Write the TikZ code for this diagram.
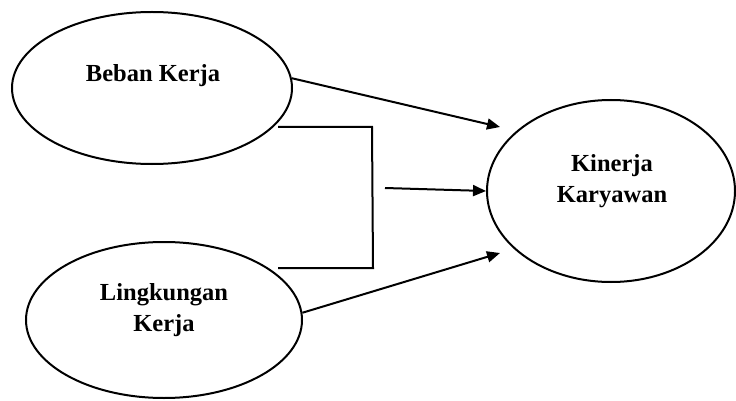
\documentclass[tikz,border=0pt]{standalone}
\usepackage{fontspec}
\setmainfont{Liberation Serif}
\usetikzlibrary{shapes.geometric,arrows.meta}
\begin{document}
\begin{tikzpicture}[x=1pt,y=-1pt,
  oval/.style={draw,ellipse,line width=2pt,inner sep=0pt},
  lbl/.style={align=center,font=\fontsize{24.5}{31}\selectfont\bfseries},
  link/.style={line width=2pt},
  arr/.style={line width=2pt,-{Triangle[length=13pt,width=11pt]}}]
\useasboundingbox (0,0) rectangle (736,401);
\node[oval,minimum width=280pt,minimum height=152pt] (b) at (152,88) {};
\node[lbl] (bt) at (153,76) {Beban Kerja};
\node[oval,minimum width=276pt,minimum height=156pt] (l) at (164,320) {};
\node[lbl] (lt) at (164,310) {Lingkungan\\Kerja};
\node[oval,minimum width=248pt,minimum height=182pt] (k) at (611,191) {};
\node[lbl] (kt) at (612,181) {Kinerja\\Karyawan};
\coordinate (t1) at (500,127);
\coordinate (t3) at (500,253);
\coordinate (bt1) at (278,127);
\coordinate (bt2) at (372,127);
\coordinate (bb1) at (278,268);
\coordinate (bb2) at (373,268);
\coordinate (m1) at (385,188);
\draw[arr] (b.4.5) -- (t1);
\draw[arr] (l.3) -- (t3);
\draw[link] (bt1) -- (bt2) -- (bb2) -- (bb1);
\draw[arr] (m1) -- (k.west);
\end{tikzpicture}
\end{document}
